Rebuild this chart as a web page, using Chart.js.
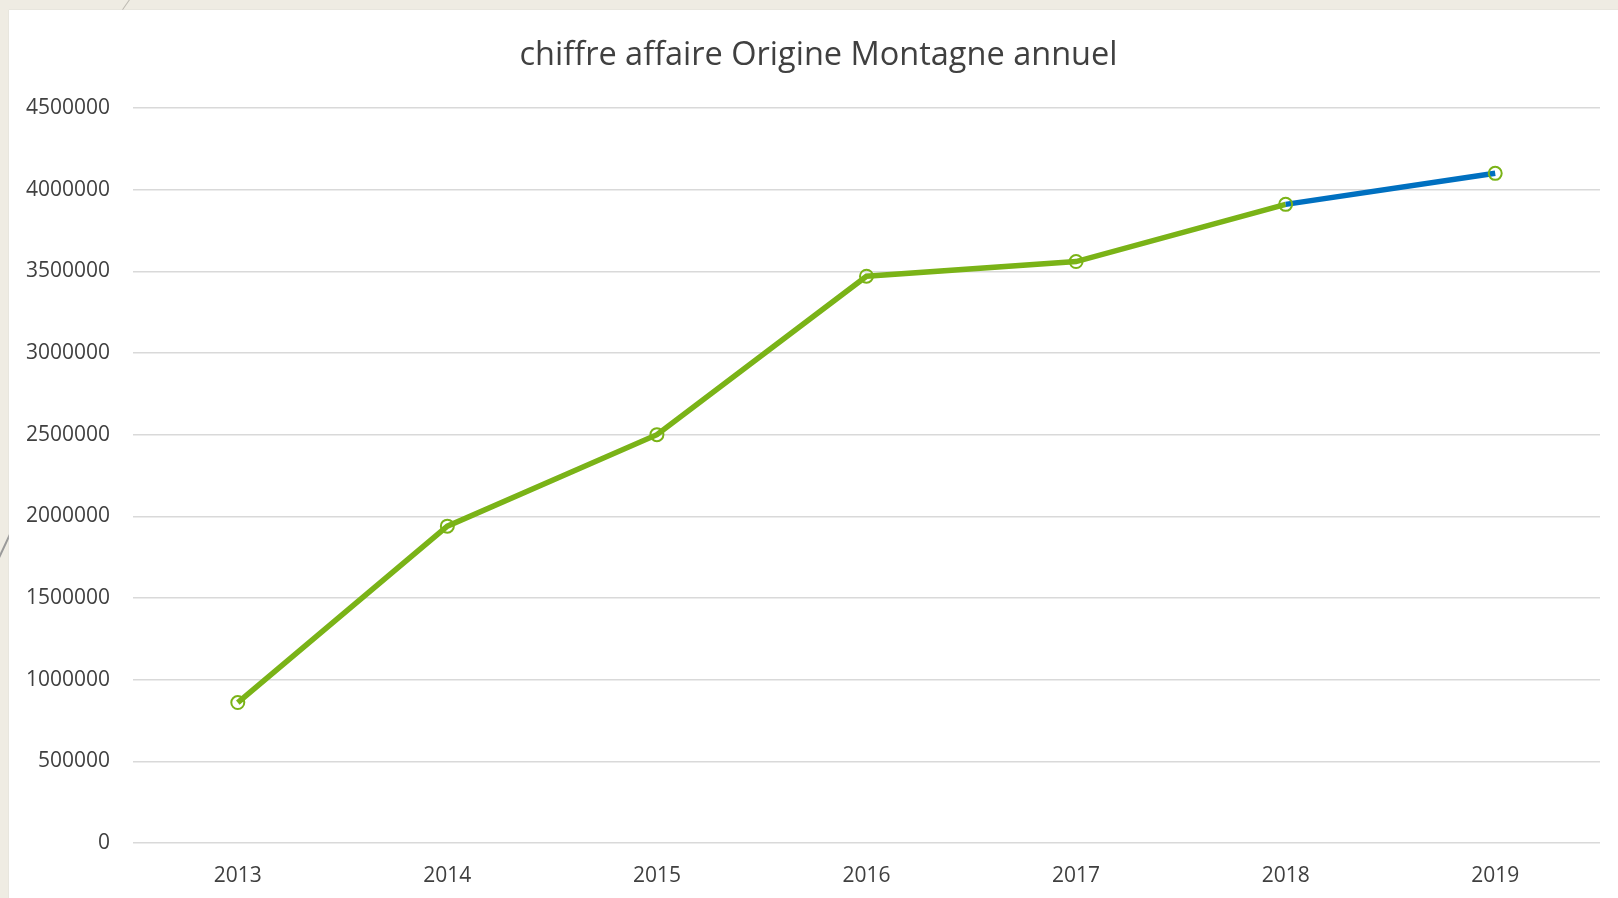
<!DOCTYPE html>
<html>
<head>
<meta charset="utf-8">
<script src="https://cdn.jsdelivr.net/npm/chart.js@4"></script>
<style>
  html, body { margin: 0; padding: 0; width: 1618px; height: 898px; overflow: hidden; background: #efece3; }
  #wrap { position: absolute; left: 9px; top: 10px; width: 1609px; height: 888px; background: #ffffff; box-shadow: 0 0 1px #c8c8c8; }
  .deco { position: absolute; background: #bdbab2; width: 1px; }
</style>
</head>
<body>
<div class="deco" style="left:126px;top:-3px;height:14px;transform:rotate(35deg);"></div>
<div class="deco" style="left:4px;top:525px;height:40px;width:2px;background:#9a9a9a;transform:rotate(25deg);"></div>
<div id="wrap"><canvas id="caChart" width="1609" height="888"></canvas></div>
<script>
const years = ["2013", "2014", "2015", "2016", "2017", "2018", "2019"];
const revenue = [860000, 1940000, 2500000, 3470000, 3560000, 3910000, 4100000];
const yTicks = [0, 500000, 1000000, 1500000, 2000000, 2500000, 3000000, 3500000, 4000000, 4500000];

const green = "#7ab317";
const blue = "#0070c0";
const textColor = "#404040";
const fontFamily = "'Open Sans', 'Noto Sans', sans-serif";

const ctx = document.getElementById("caChart");

// nudge the title a bit right, the original is not centred on the canvas
const titleShift = {
  id: "titleShift",
  afterLayout(chart) {
    if (chart.titleBlock) chart.titleBlock.left += 28;
  },
};

new Chart(ctx, {
  type: "line",
  data: {
    labels: years,
    datasets: [
      {
        label: "chiffre affaire",
        data: revenue,
        borderColor: green,
        borderWidth: 5.5,
        fill: false,
        tension: 0,
        pointRadius: 6.5,
        pointBorderWidth: 2,
        pointBorderColor: green,
        pointBackgroundColor: "rgba(255,255,255,0)",
        segment: {
          // last year drawn in blue like the original
          borderColor: (c) => (c.p0DataIndex === 5 ? blue : green),
        },
      },
    ],
  },
  plugins: [titleShift],
  options: {
    responsive: false,
    animation: false,
    layout: { padding: { left: 0, right: 18, top: 0, bottom: 0 } },
    plugins: {
      legend: { display: false },
      tooltip: { enabled: false },
      title: {
        display: true,
        text: "chiffre affaire Origine Montagne annuel",
        color: textColor,
        font: { family: fontFamily, size: 32.5, weight: "normal" },
        padding: { top: 26.5, bottom: 32.5 },
      },
    },
    scales: {
      x: {
        type: "category",
        offset: true,
        grid: { display: false, drawTicks: false },
        border: { display: false },
        ticks: {
          color: textColor,
          font: { family: fontFamily, size: 21 },
          padding: 20,
          maxRotation: 0,
        },
        afterFit: (scale) => {
          scale.height = 55;
        },
      },
      y: {
        min: 0,
        max: 4500000,
        grid: { color: "#d9d9d9", lineWidth: 1.5, drawTicks: false },
        border: { display: false },
        afterBuildTicks: (scale) => {
          scale.ticks = yTicks.map((v) => ({ value: v }));
        },
        ticks: {
          color: textColor,
          font: { family: fontFamily, size: 21 },
          padding: 23,
          callback: (v) => String(v),
        },
        afterFit: (scale) => {
          scale.width = 124;
        },
      },
    },
  },
});
</script>
</body>
</html>
